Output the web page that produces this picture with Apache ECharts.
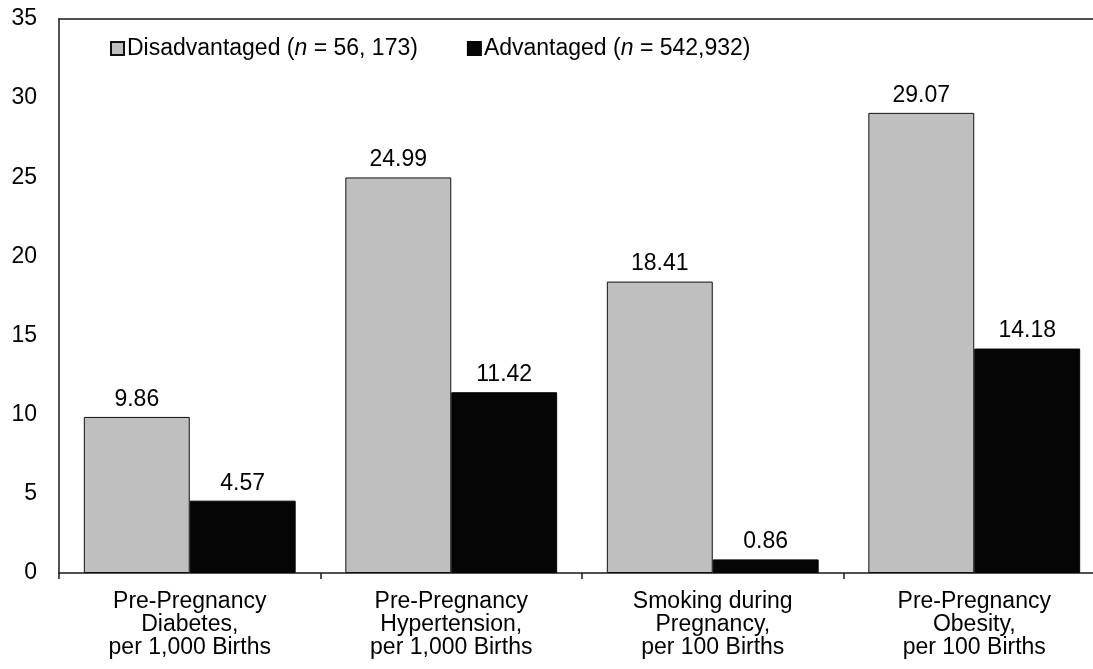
<!DOCTYPE html>
<html>
<head>
<meta charset="utf-8">
<script src="https://cdn.jsdelivr.net/npm/echarts@6/dist/echarts.min.js"></script>
<style>
  html, body { margin: 0; padding: 0; background: #fff; }
  #chart { width: 1093px; height: 669px; }
</style>
</head>
<body>
<div id="chart"></div>
<script>
// Outcome categories (x axis)
const categories = [
  'Pre-Pregnancy\nDiabetes,\nper 1,000 Births',
  'Pre-Pregnancy\nHypertension,\nper 1,000 Births',
  'Smoking during\nPregnancy,\nper 100 Births',
  'Pre-Pregnancy\nObesity,\nper 100 Births'
];
// Rates by neighbourhood group
const disadvantaged = [9.86, 24.99, 18.41, 29.07];
const advantaged = [4.57, 11.42, 0.86, 14.18];
// Series names and sample sizes
const seriesNames = ['Disadvantaged', 'Advantaged'];
const sampleSizes = ['56, 173', '542,932'];
// Value axis range
const yMin = 0, yMax = 35, yStep = 5;

const FONT = '"Liberation Sans", Arial, sans-serif';
const FS = 23;
const AXIS = '#1a1a1a';

const chart = echarts.init(document.getElementById('chart'), null, { renderer: 'canvas' });

const labelStyle = {
  show: true,
  position: 'top',
  distance: 6,
  fontFamily: FONT,
  fontSize: FS,
  color: '#000',
  formatter: p => p.value.toFixed(2)
};

chart.setOption({
  animation: false,
  backgroundColor: '#fff',
  textStyle: { fontFamily: FONT },
  grid: {
    left: 59, top: 19, width: 1046, height: 554,
    containLabel: false,
    outerBoundsMode: 'none'
  },
  legend: {
    left: 105,
    top: 32,
    itemWidth: 13,
    itemHeight: 13,
    itemGap: 49,
    icon: 'rect',
    textStyle: {
      fontFamily: FONT,
      fontSize: FS,
      color: '#000',
      padding: [0, 0, 0, -2],
      rich: {
        a: { fontFamily: FONT, fontSize: FS, color: '#000' },
        i: { fontFamily: FONT, fontSize: FS, color: '#000', fontStyle: 'italic' }
      }
    },
    formatter: name => {
      const idx = seriesNames.indexOf(name);
      return '{a|' + name + ' (}{i|n}{a| = ' + sampleSizes[idx] + ')}';
    },
    data: seriesNames
  },
  xAxis: [{
    type: 'category',
    data: categories,
    axisLine: { show: true, lineStyle: { color: AXIS, width: 1.5 } },
    axisTick: { show: true, alignWithLabel: false, length: 6, inside: false, lineStyle: { color: AXIS, width: 1.5 } },
    axisLabel: {
      interval: 0,
      margin: 17,
      fontFamily: FONT,
      fontSize: FS,
      lineHeight: 23,
      color: '#000',
      align: 'center'
    }
  }, {
    type: 'category',
    position: 'top',
    data: categories,
    axisLine: { show: true, lineStyle: { color: AXIS, width: 1.5 } },
    axisTick: { show: false },
    axisLabel: { show: false }
  }],
  yAxis: {
    type: 'value',
    min: yMin,
    max: yMax,
    interval: yStep,
    splitLine: { show: false },
    axisLine: { show: true, lineStyle: { color: AXIS, width: 1.5 } },
    axisTick: { show: false },
    axisLabel: {
      margin: 22,
      fontFamily: FONT,
      fontSize: FS,
      color: '#000'
    }
  },
  series: [{
    name: seriesNames[0],
    type: 'bar',
    data: disadvantaged,
    barGap: '0%',
    barCategoryGap: '19%',
    itemStyle: { color: '#bfbfbf', borderColor: '#111', borderWidth: 1 },
    label: labelStyle
  }, {
    name: seriesNames[1],
    type: 'bar',
    data: advantaged,
    barGap: '0%',
    barCategoryGap: '19%',
    itemStyle: { color: '#050505', borderColor: '#050505', borderWidth: 1 },
    label: labelStyle
  }]
});
</script>
</body>
</html>
